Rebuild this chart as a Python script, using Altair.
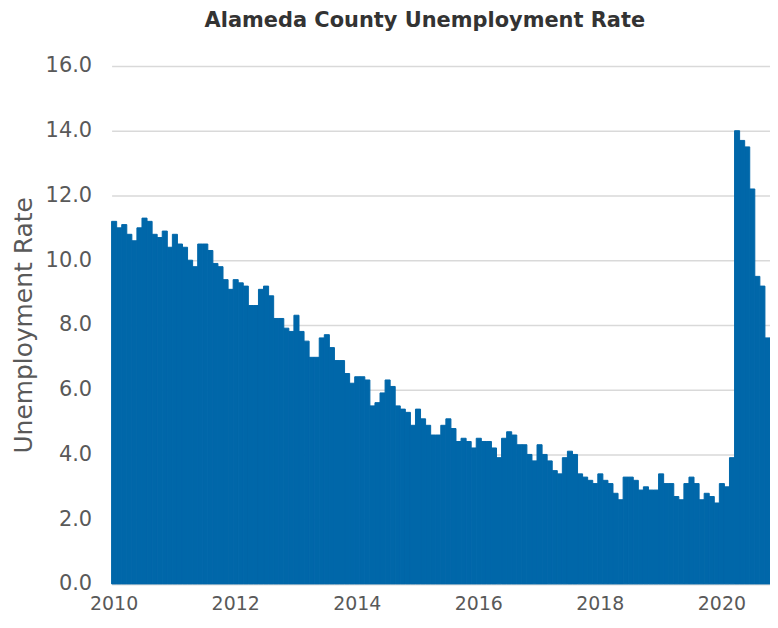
import altair as alt
import pandas as pd

years = list(range(2010, 2021))
months = [f"{y}-{m:02d}" for y in years for m in range(1, 13)][:130]

rates = [
    11.2, 11.0, 11.1, 10.8, 10.6, 11.0, 11.3, 11.2, 10.8, 10.7, 10.9, 10.4,  # 2010
    10.8, 10.5, 10.4, 10.0, 9.8, 10.5, 10.5, 10.3, 9.9, 9.8, 9.4, 9.1,       # 2011
    9.4, 9.3, 9.2, 8.6, 8.6, 9.1, 9.2, 8.9, 8.2, 8.2, 7.9, 7.8,              # 2012
    8.3, 7.8, 7.5, 7.0, 7.0, 7.6, 7.7, 7.3, 6.9, 6.9, 6.5, 6.2,              # 2013
    6.4, 6.4, 6.3, 5.5, 5.6, 5.9, 6.3, 6.1, 5.5, 5.4, 5.3, 4.9,              # 2014
    5.4, 5.1, 4.9, 4.6, 4.6, 4.9, 5.1, 4.8, 4.4, 4.5, 4.4, 4.2,              # 2015
    4.5, 4.4, 4.4, 4.2, 3.9, 4.5, 4.7, 4.6, 4.3, 4.3, 4.0, 3.8,              # 2016
    4.3, 4.0, 3.8, 3.5, 3.4, 3.9, 4.1, 4.0, 3.4, 3.3, 3.2, 3.1,              # 2017
    3.4, 3.2, 3.1, 2.8, 2.6, 3.3, 3.3, 3.2, 2.9, 3.0, 2.9, 2.9,              # 2018
    3.4, 3.1, 3.1, 2.7, 2.6, 3.1, 3.3, 3.1, 2.6, 2.8, 2.7, 2.5,              # 2019
    3.1, 3.0, 3.9, 14.0, 13.7, 13.5, 12.2, 9.5, 9.2, 7.6,                    # 2020
]

x_tick_values = ["2010-01", "2012-01", "2014-01", "2016-01", "2018-01", "2020-01"]
y_tick_values = [0, 2, 4, 6, 8, 10, 12, 14, 16]

df = pd.DataFrame({"month": months, "rate": rates})

FONT = "DejaVu Sans"
GRAY = "#595959"

chart = alt.Chart(df).mark_bar(
    color="#0067A9", stroke="#0067A9", strokeWidth=1
).encode(
    x=alt.X(
        "month:O",
        sort=None,
        scale=alt.Scale(paddingInner=0, paddingOuter=0),
        axis=alt.Axis(
            values=x_tick_values,
            labelExpr="slice(datum.value, 0, 4)",
            title=None,
            labelAngle=0,
            ticks=False,
            domainColor="#d9d9d9",
            domainWidth=1.5,
            labelFont=FONT,
            labelFontSize=19,
            labelColor=GRAY,
            labelPadding=11,
        ),
    ),
    y=alt.Y(
        "rate:Q",
        scale=alt.Scale(domain=[0, 16]),
        axis=alt.Axis(
            values=y_tick_values,
            format=".1f",
            title="Unemployment Rate",
            titleFont=FONT,
            titleFontSize=25,
            titleFontWeight="normal",
            titleColor=GRAY,
            titlePadding=9,
            grid=True,
            gridColor="#d9d9d9",
            gridWidth=1.5,
            domain=False,
            ticks=False,
            labelFont=FONT,
            labelFontSize=21,
            labelColor=GRAY,
            labelPadding=20,
        ),
    ),
).properties(
    width=661,
    height=520,
    title=alt.TitleParams(
        text="Alameda County Unemployment Rate",
        font=FONT,
        fontSize=21,
        fontWeight="bold",
        color="#333333",
        anchor="middle",
        dx=-16,
        offset=24,
    ),
    autosize="none",
    padding={"left": 104, "top": 57, "right": 0, "bottom": 31},
).configure_view(stroke=None)

chart.save("out.html", embed_options={"renderer": "svg", "actions": False})
